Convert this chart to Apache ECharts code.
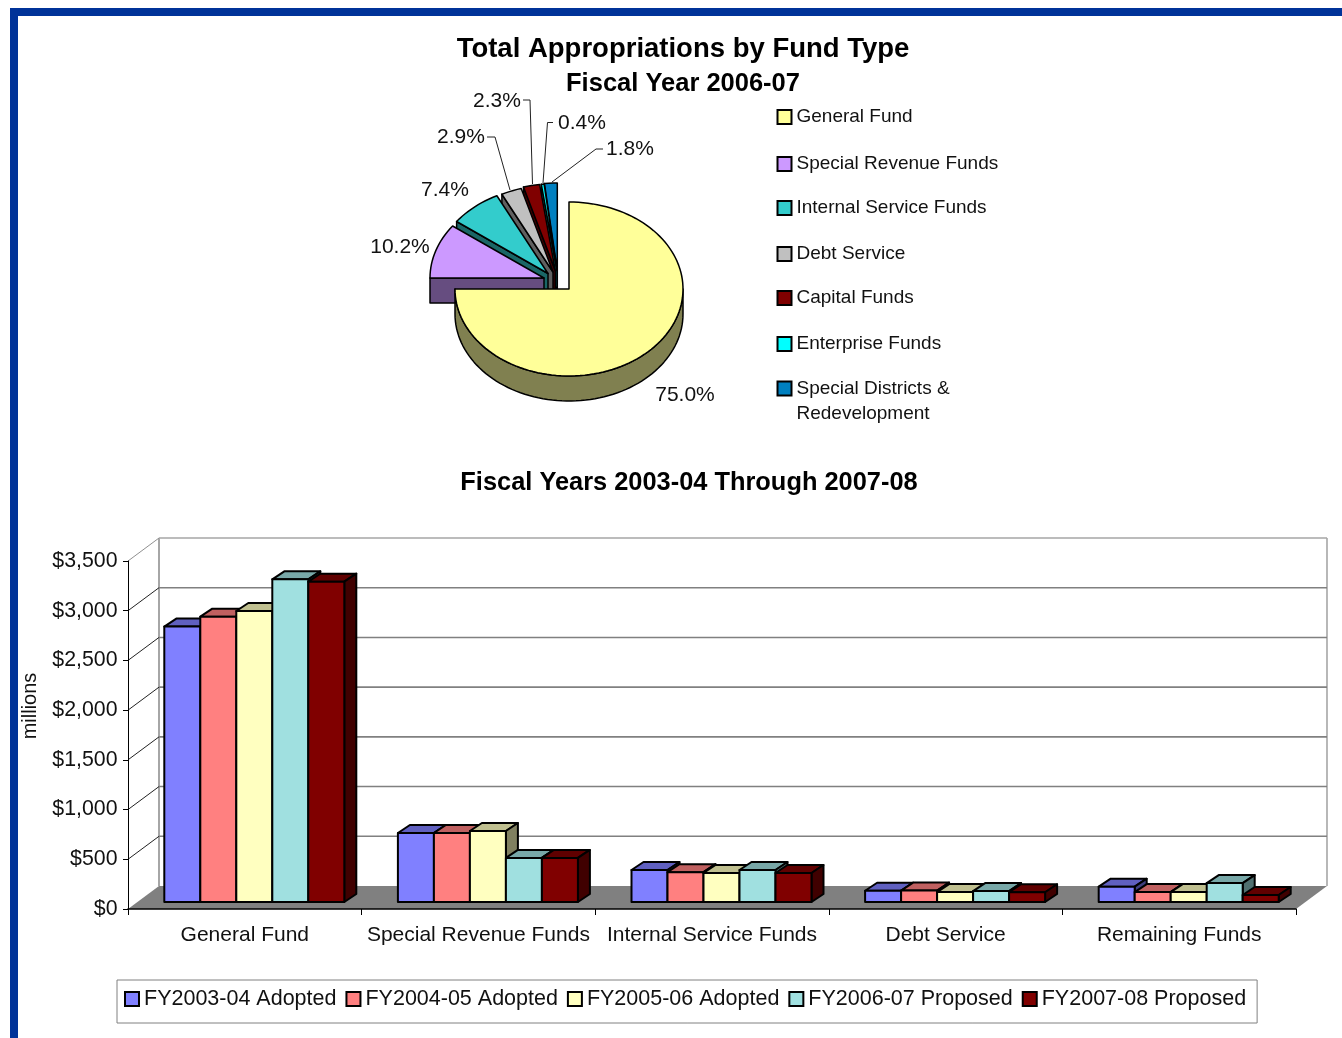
<!DOCTYPE html>
<html>
<head>
<meta charset="utf-8">
<style>html,body{margin:0;padding:0;background:#fff}#c{width:1342px;height:1038px}</style>
<script src="https://cdn.jsdelivr.net/npm/echarts@6/dist/echarts.min.js"></script>
</head>
<body>
<div id="c"></div>
<script>
// Share of FY2006-07 appropriations, in percent, clockwise from twelve o'clock
var fundNames = ['General Fund', 'Special Revenue Funds', 'Internal Service Funds', 'Debt Service',
  'Capital Funds', 'Enterprise Funds', 'Special Districts & Redevelopment'];
var fundShares = [75.0, 10.2, 7.4, 2.9, 2.3, 0.4, 1.8];

// Five-year appropriations in millions
var categories = ['General Fund', 'Special Revenue Funds', 'Internal Service Funds', 'Debt Service', 'Remaining Funds'];
var yearNames = ['FY2003-04 Adopted', 'FY2004-05 Adopted', 'FY2005-06 Adopted', 'FY2006-07 Proposed', 'FY2007-08 Proposed'];
var fy0304 = [2770, 694, 322, 113, 154];
var fy0405 = [2870, 694, 300, 115, 100];
var fy0506 = [2927, 714, 292, 100, 100];
var fy0607 = [3245, 443, 322, 110, 190];
var fy0708 = [3222, 443, 292, 98, 70];
var yearValues = [fy0304, fy0405, fy0506, fy0607, fy0708];
var yTicks = [0, 500, 1000, 1500, 2000, 2500, 3000, 3500];

var FONT = '"Liberation Sans", Arial, sans-serif';
var INK = '#111';

// Pie appearance
var pieFill = ['#FFFF99', '#CC99FF', '#33CCCC', '#C0C0C0', '#800000', '#00FFFF', '#0080C0'];
var pieWall = ['#808050', '#664D80', '#1A6666', '#606060', '#400000', '#008080', '#004060'];
var pieCentre = [569, 289], pieRx = 114, pieRy = 87, pieDepth = 25;
var pieShift = [[0, 0], [-25, -11], [-21, -15.5], [-16, -17], [-13.7, -18.4], [-12, -18.5], [-11.7, -19]];
var pieLabelAt = [[685, 395], [400, 247], [445, 190], [461, 137], [497, 101], [582, 123], [630, 149]];
var pieLeaders = [null, null, null,
  [[487, 137], [495, 137], [510, 190]],
  [[523, 100], [530, 100], [532.5, 184]],
  [[553, 122.5], [547.5, 122.5], [543, 183]],
  [[603, 149], [596, 149], [552, 182]]];
var legendCentres = [117, 164, 208, 254, 298, 344, 388];

// Column appearance
var barFill = ['#8080FF', '#FF8080', '#FFFFC0', '#A0E0E0', '#800000'];
var barTop = ['#6060C0', '#C06060', '#C0C090', '#78A8A8', '#600000'];
var barSide = ['#404080', '#804040', '#808060', '#507070', '#400000'];
var backDx = 31, backDy = -23;      // floor depth, front plane to back wall
var rowDx = 9.5, rowDy = -7;        // where the column row sits on the floor
var capDx = 12, capDy = -8;         // column depth
var groupShare = 180 / 233.6;

var cumulative = [];
fundShares.reduce(function (sum, v, i) { cumulative[i] = sum; return sum + v; }, 0);

function slicePoints(api, from, to, dx, dy) {
  var pts = [], steps = Math.max(2, Math.ceil((to - from) * 1.5));
  for (var k = 0; k <= steps; k++) {
    var p = api.coord([1, from + (to - from) * k / steps]);
    pts.push([p[0] + dx, pieCentre[1] + (p[1] - pieCentre[1]) * pieRy / pieRx + dy]);
  }
  return pts;
}

function pieSeries(i) {
  return {
    name: fundNames[i],
    type: 'custom',
    coordinateSystem: 'polar',
    itemStyle: { color: pieFill[i], borderColor: '#000', borderWidth: 1.2 },
    encode: { radius: 0, angle: 1 },
    data: [[1, cumulative[i], fundShares[i]]],
    renderItem: function (params, api) {
      var start = api.value(1), end = start + api.value(2);
      var sx = pieShift[i][0], sy = pieShift[i][1];
      var apex = [pieCentre[0] + sx, pieCentre[1] + sy];
      var rim = slicePoints(api, start, end, sx, sy);
      var edge = { stroke: '#000', lineWidth: 1.5, lineJoin: 'round' };
      var kids = [];
      if (i === 0) {
        // only the near half of the large slice shows its rim
        var nearRim = slicePoints(api, 25, 75, sx, sy);
        var wallPts = nearRim.concat(nearRim.slice().reverse().map(function (p) { return [p[0], p[1] + pieDepth]; }));
        kids.push({ type: 'polygon', shape: { points: wallPts }, style: Object.assign({ fill: pieWall[i] }, edge) });
      } else {
        var a = rim[0];
        kids.push({ type: 'polygon',
          shape: { points: [apex, a, [a[0], a[1] + pieDepth], [apex[0], apex[1] + pieDepth]] },
          style: Object.assign({ fill: pieWall[i] }, edge) });
      }
      kids.push({ type: 'polygon', shape: { points: [apex].concat(rim) }, style: Object.assign({ fill: pieFill[i] }, edge) });
      if (pieLeaders[i]) {
        kids.push({ type: 'polyline', shape: { points: pieLeaders[i] }, style: { stroke: '#222', lineWidth: 1, fill: null } });
      }
      kids.push({ type: 'text', style: {
        x: pieLabelAt[i][0], y: pieLabelAt[i][1], text: fundShares[i].toFixed(1) + '%',
        fill: INK, fontSize: 21, fontFamily: FONT, align: 'center', verticalAlign: 'middle' } });
      return { type: 'group', children: kids };
    }
  };
}

function barSeries(s) {
  return {
    name: yearNames[s],
    type: 'custom',
    xAxisIndex: 0, yAxisIndex: 0,
    itemStyle: { color: barFill[s], borderColor: '#000', borderWidth: 1.2 },
    encode: { x: 0, y: 1 },
    data: yearValues[s].map(function (v, c) { return [c, v]; }),
    z: 5,
    renderItem: function (params, api) {
      var base = api.coord([api.value(0), 0]);
      var top = api.coord([api.value(0), api.value(1)]);
      var w = api.size([1, 0])[0] * groupShare / 5;
      var x0 = base[0] + rowDx + (s - 2.5) * w, x1 = x0 + w;
      var yb = base[1] + rowDy, yt = top[1] + rowDy;
      var edge = { stroke: '#000', lineWidth: 2, lineJoin: 'round' };
      return { type: 'group', children: [
        { type: 'polygon', shape: { points: [[x0, yt], [x0 + capDx, yt + capDy], [x1 + capDx, yt + capDy], [x1, yt]] },
          style: Object.assign({ fill: barTop[s] }, edge) },
        { type: 'polygon', shape: { points: [[x1, yt], [x1 + capDx, yt + capDy], [x1 + capDx, yb + capDy], [x1, yb]] },
          style: Object.assign({ fill: barSide[s] }, edge) },
        { type: 'rect', shape: { x: x0, y: yt, width: w, height: yb - yt }, style: Object.assign({ fill: barFill[s] }, edge) }
      ] };
    }
  };
}

// Back wall, side wall lines and floor, all hung from the value axis
var shellSeries = {
  type: 'custom',
  name: 'wall',
  xAxisIndex: 0, yAxisIndex: 0,
  silent: true,
  z: 1,
  encode: { y: 1 },
  data: yTicks.map(function (v) { return [0, v]; }),
  renderItem: function (params, api) {
    var v = api.value(1);
    var p = api.coord([0, v]);
    var left = params.coordSys.x, right = left + params.coordSys.width;
    var kids = [];
    var grey = { stroke: v === 3500 ? '#A6A6A6' : '#808080', lineWidth: 1.6 };
    if (v === 0) {
      kids.push({ type: 'polygon', shape: { points: [[left, p[1]], [left + backDx, p[1] + backDy], [right + backDx, p[1] + backDy], [right, p[1]]] },
        style: { fill: '#808080', stroke: null } });
      var topWall = api.coord([0, 3500])[1] + backDy;
      kids.push({ type: 'line', shape: { x1: left + backDx, y1: topWall, x2: left + backDx, y2: p[1] + backDy }, style: { stroke: '#909090', lineWidth: 1.6 } });
      kids.push({ type: 'line', shape: { x1: right + backDx, y1: topWall, x2: right + backDx, y2: p[1] + backDy }, style: { stroke: '#A6A6A6', lineWidth: 1.6 } });
    } else {
      kids.push({ type: 'line', shape: { x1: left + backDx, y1: p[1] + backDy, x2: right + backDx, y2: p[1] + backDy }, style: grey });
      kids.push({ type: 'line', shape: { x1: left, y1: p[1], x2: left + backDx, y2: p[1] + backDy },
        style: { stroke: v === 3500 ? '#909090' : '#222', lineWidth: 1 } });
    }
    return { type: 'group', children: kids };
  }
};

var pieLegends = fundNames.map(function (name, i) {
  var last = i === fundNames.length - 1;
  return {
    data: [name],
    icon: 'rect',
    left: 776.5,
    top: last ? legendCentres[i] - 37 : legendCentres[i] - 11,
    padding: 0,
    itemWidth: 14, itemHeight: 14,
    selectedMode: false,
    textStyle: { fontFamily: FONT, fontSize: 19, color: INK, lineHeight: last ? 25 : 22 },
    formatter: last ? function () { return '\nSpecial Districts &\nRedevelopment'; } : undefined
  };
});

var option = {
  animation: false,
  backgroundColor: '#fff',
  title: [
    { text: 'Total Appropriations by Fund Type', left: 683, top: 35, textAlign: 'center', padding: 0,
      textStyle: { fontFamily: FONT, fontSize: 27.5, fontWeight: 'bold', color: '#000' } },
    { text: 'Fiscal Year 2006-07', left: 683, top: 71, textAlign: 'center', padding: 0,
      textStyle: { fontFamily: FONT, fontSize: 25.5, fontWeight: 'bold', color: '#000' } },
    { text: 'Fiscal Years 2003-04 Through 2007-08', left: 689, top: 470, textAlign: 'center', padding: 0,
      textStyle: { fontFamily: FONT, fontSize: 25.4, fontWeight: 'bold', color: '#000' } }
  ],
  graphic: [
    { type: 'rect', shape: { x: 10, y: 8, width: 1332, height: 8 }, style: { fill: '#003399' }, silent: true },
    { type: 'rect', shape: { x: 10, y: 8, width: 8, height: 1030 }, style: { fill: '#003399' }, silent: true },
    { type: 'text', rotation: Math.PI / 2, x: 30, y: 706, silent: true,
      style: { text: 'millions', fontFamily: FONT, fontSize: 20, fill: INK, align: 'center', verticalAlign: 'middle' } }
  ],
  legend: pieLegends.concat([{
    data: yearNames,
    icon: 'rect',
    left: 117, top: 980,
    padding: [8, 11, 13, 7],
    itemGap: 9,
    itemWidth: 14, itemHeight: 14,
    selectedMode: false,
    borderColor: '#808080', borderWidth: 1,
    textStyle: { fontFamily: FONT, fontSize: 21.5, color: INK }
  }]),
  polar: { center: pieCentre, radius: pieRx },
  angleAxis: { type: 'value', min: 0, max: 100, startAngle: 90, show: false },
  radiusAxis: { type: 'value', min: 0, max: 1, show: false },
  grid: { left: 128, top: 561, width: 1168, height: 348, containLabel: false },
  xAxis: { type: 'category', data: categories, z: 10,
    axisLine: { lineStyle: { color: '#000', width: 1.6 } },
    axisTick: { show: true, alignWithLabel: false, length: 6, lineStyle: { color: '#000' } },
    axisLabel: { fontFamily: FONT, fontSize: 21, color: INK, margin: 16, interval: 0 },
    splitLine: { show: false } },
  yAxis: { type: 'value', min: 0, max: 3500, interval: 500, z: 10,
    axisLine: { show: true, lineStyle: { color: '#000', width: 1 } },
    axisTick: { show: true, length: 5, lineStyle: { color: '#000' } },
    axisLabel: { fontFamily: FONT, fontSize: 21.3, color: INK, margin: 10.5,
      formatter: function (v) { return '$' + v.toLocaleString('en-US'); } },
    splitLine: { show: false } },
  series: [shellSeries]
    .concat(yearNames.map(function (n, s) { return barSeries(s); }))
    .concat(fundNames.map(function (n, i) { return i; }).reverse().map(pieSeries))
};

echarts.init(document.getElementById('c'), null, { renderer: 'canvas' }).setOption(option);
</script>
</body>
</html>
